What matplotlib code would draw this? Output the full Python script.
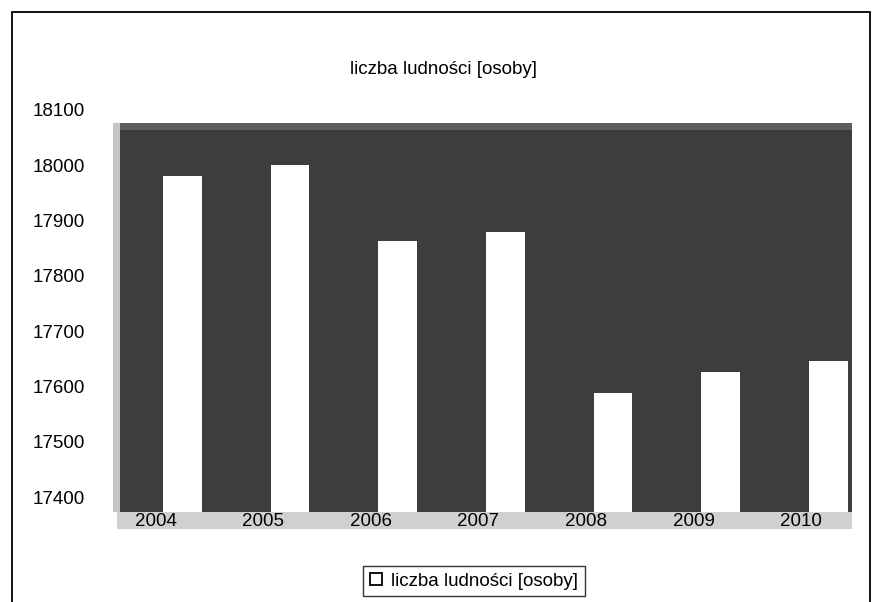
"""
Wykres słupkowy: liczba ludności w latach 2004-2010
"""

import numpy as np
import matplotlib
matplotlib.use('Agg')
from matplotlib import pyplot as plt
from matplotlib.patches import Rectangle

years = ['2004', '2005', '2006', '2007', '2008', '2009', '2010']
population = [17980, 18001, 17863, 17879, 17588, 17626, 17646]
y_ticks = [17400, 17500, 17600, 17700, 17800, 17900, 18000, 18100]
title = 'liczba ludności [osoby]'

W, H = 872, 602
plt.rcParams['font.family'] = ['Liberation Sans', 'DejaVu Sans']

fig = plt.figure(figsize=(W / 100, H / 100), dpi=100)
fig.patch.set_facecolor('white')


def box(x0, y0, x1, y1):
    # piksele (od góry) -> współrzędne figury
    return [x0 / W, 1 - y1 / H, (x1 - x0) / W, (y1 - y0) / H]


def rect(x0, y0, x1, y1, **kw):
    b = box(x0, y0, x1, y1)
    fig.patches.append(Rectangle((b[0], b[1]), b[2], b[3],
                                 transform=fig.transFigure, **kw))


# ramka całego wykresu
fig.patches.append(Rectangle((12 / W, -0.01), 858 / W, 1 - 12 / H + 0.01,
                             transform=fig.transFigure, fill=False,
                             edgecolor='black', linewidth=1.3, zorder=-3))

# tło, podłoga i lewa ściana (efekt 3D)
rect(120, 123, 852, 512, facecolor='#3d3d3d', edgecolor='none', zorder=-2)
rect(120, 123, 852, 130, facecolor='#5e5e5e', edgecolor='none', zorder=-1)
rect(117, 512, 852, 529, facecolor='#d0d0d0', edgecolor='none', zorder=-1)
rect(113, 123, 120, 512, facecolor='#c4c4c4', edgecolor='none', zorder=-1)

# oś: 17373 na dole podłogi, 18100 na wysokości etykiety
ax = fig.add_axes(box(120, 110, 852, 512))
ax.patch.set_visible(False)
x = np.arange(len(years))
ax.bar(x, population, width=0.36, color='white', edgecolor='none',
       label=title, zorder=2)

ax.set_xlim(-0.58, 6.22)
ax.set_yticks(y_ticks)
ax.set_yticklabels([str(v) for v in y_ticks], fontsize=13.5)
ax.set_ylim(17373, 18100)
ax.set_xticks(x - 0.25)
ax.set_xticklabels(years, fontsize=13.5)
ax.tick_params(axis='y', length=0, pad=25)
ax.tick_params(axis='x', length=0, pad=1)
for s in ax.spines.values():
    s.set_visible(False)

fig.text(443 / W, 1 - 70 / H, title, ha='center', va='center', fontsize=13.5)

leg = fig.legend(loc='center', bbox_to_anchor=(474 / W, 1 - 581 / H),
                 fontsize=13.5, frameon=True, fancybox=False,
                 handlelength=0.65, handleheight=0.65, handletextpad=0.5,
                 borderpad=0.35, borderaxespad=0)
leg.get_frame().set_edgecolor('black')
leg.get_frame().set_linewidth(1.0)
for h in leg.legend_handles:
    h.set_edgecolor('black')
    h.set_linewidth(1.3)

fig.savefig('out.png', dpi=100)
